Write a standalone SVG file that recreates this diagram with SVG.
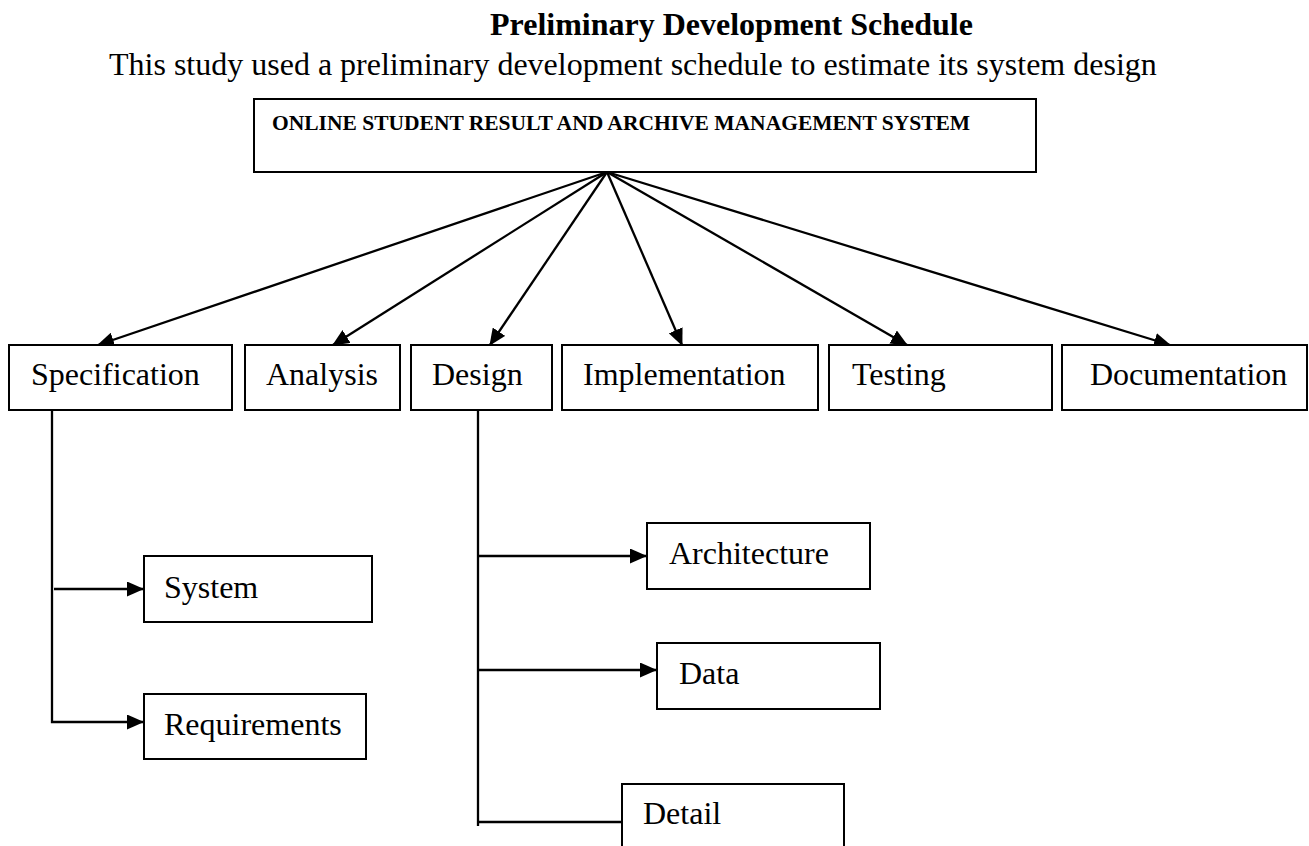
<svg xmlns="http://www.w3.org/2000/svg" width="1309" height="846" viewBox="0 0 1309 846">
<defs>
<style>
.t{font-family:"Liberation Serif","Times New Roman",serif;font-size:32px;fill:#000}
.b{font-weight:bold}
.box{fill:#fff;stroke:#000;stroke-width:2}
.c{fill:none;stroke:#000;stroke-width:2.3}
</style>
<marker id="ah" markerWidth="17" markerHeight="15" refX="16" refY="7.5" orient="auto" markerUnits="userSpaceOnUse">
<path d="M0,0 L17,7.5 L0,15 z" fill="#000"/>
</marker>
</defs>
<rect width="1309" height="846" fill="#fff"/>
<text class="t b" x="490" y="35">Preliminary Development Schedule</text>
<text class="t" x="109" y="75">This study used a preliminary development schedule to estimate its system design</text>

<g id="connectors">
<line class="c" x1="607" y1="172" x2="98" y2="345" marker-end="url(#ah)"/>
<line class="c" x1="607" y1="172" x2="333" y2="345" marker-end="url(#ah)"/>
<line class="c" x1="607" y1="172" x2="490" y2="345" marker-end="url(#ah)"/>
<line class="c" x1="607" y1="172" x2="682" y2="345" marker-end="url(#ah)"/>
<line class="c" x1="607" y1="172" x2="907" y2="345" marker-end="url(#ah)"/>
<line class="c" x1="607" y1="172" x2="1170" y2="345" marker-end="url(#ah)"/>
<polyline class="c" points="52,410 52,722 143,722" marker-end="url(#ah)"/>
<line class="c" x1="54" y1="589" x2="143" y2="589" marker-end="url(#ah)"/>
<line class="c" x1="478" y1="410" x2="478" y2="826"/>
<line class="c" x1="478" y1="556" x2="646" y2="556" marker-end="url(#ah)"/>
<line class="c" x1="478" y1="670" x2="656" y2="670" marker-end="url(#ah)"/>
<line class="c" x1="478" y1="822" x2="622" y2="822"/>
</g>

<g id="root">
<rect class="box" x="254" y="99" width="782" height="73"/>
<text class="t b" x="272" y="130" style="font-size:21.5px">ONLINE STUDENT RESULT AND ARCHIVE MANAGEMENT SYSTEM</text>
</g>
<g id="specification">
<rect class="box" x="9" y="345" width="223" height="65"/>
<text class="t" x="31" y="385">Specification</text>
</g>
<g id="analysis">
<rect class="box" x="245" y="345" width="155" height="65"/>
<text class="t" x="266" y="385">Analysis</text>
</g>
<g id="design">
<rect class="box" x="411" y="345" width="141" height="65"/>
<text class="t" x="432" y="385">Design</text>
</g>
<g id="implementation">
<rect class="box" x="562" y="345" width="256" height="65"/>
<text class="t" x="583" y="385">Implementation</text>
</g>
<g id="testing">
<rect class="box" x="829" y="345" width="223" height="65"/>
<text class="t" x="852" y="385">Testing</text>
</g>
<g id="documentation">
<rect class="box" x="1062" y="345" width="245" height="65"/>
<text class="t" x="1090" y="385">Documentation</text>
</g>
<g id="system">
<rect class="box" x="144" y="556" width="228" height="66"/>
<text class="t" x="164" y="598">System</text>
</g>
<g id="requirements">
<rect class="box" x="144" y="694" width="222" height="65"/>
<text class="t" x="164" y="735">Requirements</text>
</g>
<g id="architecture">
<rect class="box" x="647" y="523" width="223" height="66"/>
<text class="t" x="669" y="564">Architecture</text>
</g>
<g id="data">
<rect class="box" x="657" y="643" width="223" height="66"/>
<text class="t" x="679" y="684">Data</text>
</g>
<g id="detail">
<rect class="box" x="622" y="784" width="222" height="70"/>
<text class="t" x="643" y="824">Detail</text>
</g>
</svg>
